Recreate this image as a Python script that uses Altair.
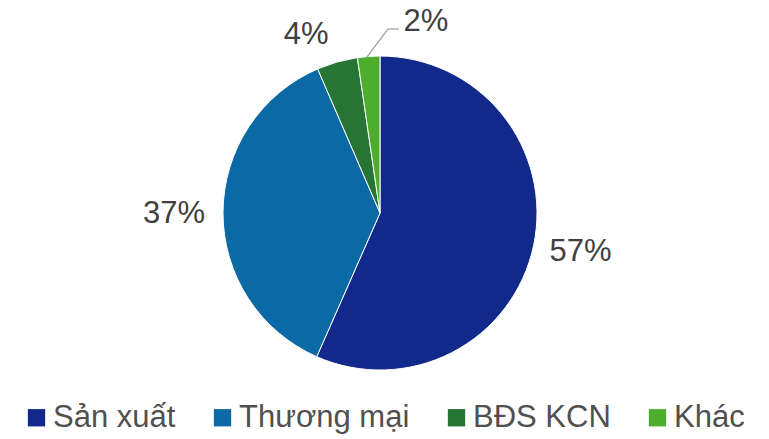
import altair as alt
import pandas as pd

categories = ["Sản xuất", "Thương mại", "BĐS KCN", "Khác"]
shares = [56.6, 36.9, 4.2, 2.3]
labels = ["57%", "37%", "4%", "2%"]
colors = ["#12298C", "#0B69A6", "#267535", "#4DAD2C"]

df = pd.DataFrame({"cat": categories, "share": shares, "label": labels, "ord": list(range(len(categories)))})

FONT = "Liberation Sans"

pie = alt.Chart(df).mark_arc(outerRadius=157, stroke="white", strokeWidth=1).encode(
    theta=alt.Theta("share:Q", stack=True),
    order=alt.Order("ord:Q"),
    color=alt.Color(
        "cat:N",
        sort=categories,
        scale=alt.Scale(domain=categories, range=colors),
        legend=alt.Legend(
            title=None, orient="none", direction="horizontal",
            legendX=13, legendY=384, symbolType="square", symbolSize=300,
            symbolStrokeWidth=0, labelFont=FONT, labelFontSize=31,
            labelColor="#505050", labelLimit=0, labelOffset=1,
            columnPadding=31, padding=0,
        ),
    ),
)

lab = alt.Chart(df).transform_window(
    cum="sum(share)", sort=[{"field": "ord"}], frame=[None, 0]
).transform_calculate(mid="datum.cum - datum.share / 2")


def text_layer(cat, radius, dx=0, dy=0):
    return lab.transform_filter(alt.datum.cat == cat).mark_text(
        radius=radius, dx=dx, dy=dy, font=FONT, fontSize=31, color="#404040",
        align="center", baseline="middle",
    ).encode(theta=alt.Theta("mid:Q", stack=None), text="label:N")


t1 = text_layer("Sản xuất", 205, 0, -3)
t2 = text_layer("Thương mại", 206, 0, 2)
t3 = text_layer("BĐS KCN", 190, -22, 5)
t4 = text_layer("Khác", 195, 60, 3)

khac = alt.Chart(df).transform_filter(alt.datum.cat == "Khác")
lead1 = khac.mark_rule(color="#A6A6A6", strokeWidth=1.3).encode(
    x=alt.value(359), x2=alt.value(380), y=alt.value(39), y2=alt.value(11))
lead2 = khac.mark_rule(color="#A6A6A6", strokeWidth=1.3).encode(
    x=alt.value(380), x2=alt.value(391), y=alt.value(11), y2=alt.value(11))

chart = alt.layer(pie, lead1, lead2, t1, t2, t3, t4).properties(
    width=744, height=390,
    autosize=alt.AutoSizeParams(type="none"),
    padding={"left": 0, "top": 10, "right": 9, "bottom": 31},
).configure_view(stroke=None)

chart.save("out.html", embed_options={"renderer": "svg", "actions": False})
